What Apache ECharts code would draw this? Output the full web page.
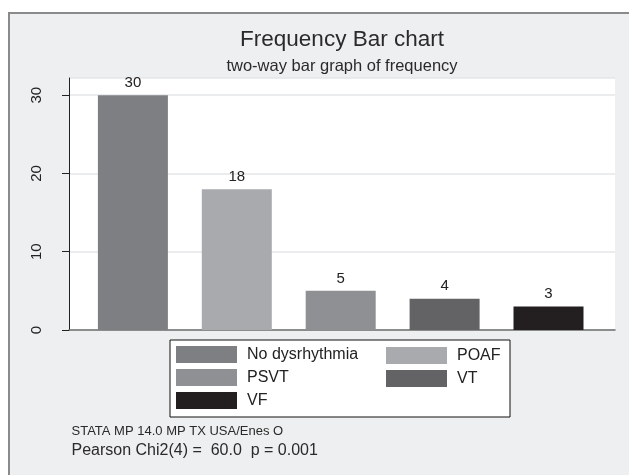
<!DOCTYPE html>
<html>
<head>
<meta charset="utf-8">
<script src="https://cdn.jsdelivr.net/npm/echarts@6/dist/echarts.min.js"></script>
<style>
  html, body { margin: 0; padding: 0; background: #ffffff; overflow: hidden; }
  #chart { position: absolute; left: 0; top: 0; width: 629px; height: 475px; }
</style>
</head>
<body>
<div id="chart"></div>
<script>
// ---- data ----
const categories = ['No dysrhythmia', 'POAF', 'PSVT', 'VT', 'VF'];
const counts = [30, 18, 5, 4, 3];
const yTicks = [0, 10, 20, 30];
const titleText = 'Frequency Bar chart';
const subtitleText = 'two-way bar graph of frequency';
const note1 = 'STATA MP 14.0 MP TX USA/Enes O';
const note2 = 'Pearson Chi2(4) =  60.0  p = 0.001';

// ---- style ----
const colors = ['#7e7f82', '#a9aaad', '#8f9093', '#636365', '#231f20'];
const FONT = '"Liberation Sans", Arial, sans-serif';
const LEG_FS = 16;

// legend columns: left column = even indices, right column = odd indices
const leftCol = categories.filter((c, i) => i % 2 === 0);
const rightCol = categories.filter((c, i) => i % 2 === 1);

const ctx = document.createElement('canvas').getContext('2d');
ctx.font = LEG_FS + 'px ' + FONT;
const leftTextW = Math.max(...leftCol.map(t => ctx.measureText(t).width));
// box spans x 170..510; left column swatch starts at 177, text begins 10px after swatch
const legendRightPad = Math.max(6, 510 - (176 + 61 + 10 + leftTextW));

const chart = echarts.init(document.getElementById('chart'), null, { renderer: 'canvas' });

const series = categories.map((name, i) => ({
  name: name,
  type: 'bar',
  data: [[i + 1, counts[i]]],
  barWidth: 70,
  barGap: '-100%',
  itemStyle: { color: colors[i] },
  label: { show: true, position: 'top', distance: 5, color: '#222', fontSize: 15, fontFamily: FONT },
  emphasis: { disabled: true }
}));

const legendCommon = {
  orient: 'vertical',
  itemGap: 6,
  itemWidth: 61, itemHeight: 17, icon: 'rect',
  textStyle: { fontSize: LEG_FS, color: '#222', fontFamily: FONT, lineHeight: 17, padding: [0, 0, 0, 5] },
  selectedMode: false
};

chart.setOption({
  backgroundColor: 'transparent',
  animation: false,
  textStyle: { fontFamily: FONT },
  grid: { left: 69, right: 14, top: 78, bottom: 145, show: true, backgroundColor: '#ffffff', borderWidth: 0 },
  xAxis: {
    type: 'value', min: 0.385, max: 5.64,
    axisLine: { show: true, lineStyle: { color: '#6e6e6e', width: 1.5 } },
    axisTick: { show: false }, axisLabel: { show: false }, splitLine: { show: false }
  },
  yAxis: {
    type: 'value', min: yTicks[0], max: 32.2, interval: 10,
    axisLine: { show: true, lineStyle: { color: '#222', width: 1 } },
    axisTick: { show: true, length: 7, lineStyle: { color: '#222' } },
    axisLabel: {
      rotate: 90, margin: 25, fontSize: 15, color: '#222', fontFamily: FONT,
      showMaxLabel: false,
      formatter: v => (yTicks.indexOf(v) >= 0 ? String(v) : '')
    },
    splitLine: { show: true, lineStyle: { color: '#e4e6e8', width: 1.5 } }
  },
  legend: [
    Object.assign({}, legendCommon, {
      data: leftCol, left: 170, top: 340,
      padding: [6, legendRightPad, 8, 6],
      backgroundColor: '#ffffff', borderColor: '#111', borderWidth: 1, borderRadius: 0
    }),
    Object.assign({}, legendCommon, {
      data: rightCol, left: 386, top: 347, padding: 0, z: 10
    })
  ],
  graphic: [
    { type: 'rect', z: -100, silent: true, shape: { x: 9, y: 13, width: 640, height: 480 },
      style: { fill: '#eeeff0', stroke: null, lineWidth: 0 } },
    { type: 'line', z: -99, silent: true, shape: { x1: 9, y1: 13, x2: 640, y2: 13 },
      style: { stroke: '#8a8a8a', lineWidth: 2 } },
    { type: 'line', z: -99, silent: true, shape: { x1: 9, y1: 12, x2: 9, y2: 480 },
      style: { stroke: '#8a8a8a', lineWidth: 2 } },
    { type: 'text', x: 342, y: 40, style: { text: titleText, font: '22.5px ' + FONT, fill: '#2a2a2a', align: 'center', verticalAlign: 'middle' } },
    { type: 'text', x: 342, y: 66, style: { text: subtitleText, font: '16.5px ' + FONT, fill: '#2a2a2a', align: 'center', verticalAlign: 'middle' } },
    { type: 'text', x: 71.5, y: 431, style: { text: note1, font: '13px ' + FONT, fill: '#2a2a2a', align: 'left', verticalAlign: 'middle' } },
    { type: 'text', x: 71.5, y: 451, style: { text: note2, font: '16px ' + FONT, fill: '#2a2a2a', align: 'left', verticalAlign: 'middle' } }
  ],
  series: series
});
</script>
</body>
</html>
